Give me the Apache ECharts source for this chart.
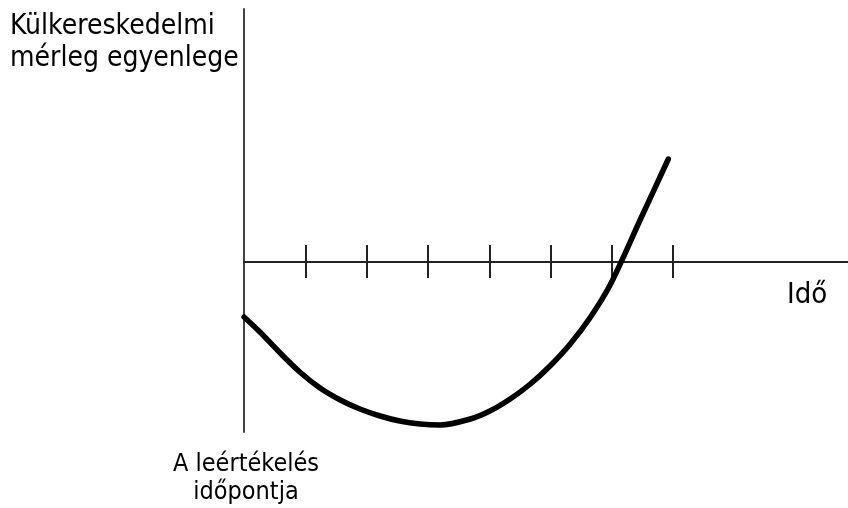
<!DOCTYPE html>
<html>
<head>
<meta charset="utf-8">
<script src="https://cdn.jsdelivr.net/npm/echarts@6/dist/echarts.min.js"></script>
<style>
  html, body { margin: 0; padding: 0; background: #fff; }
  #chart { width: 848px; height: 508px; }
</style>
</head>
<body>
<div id="chart"></div>
<script>
// J-görbe: a külkereskedelmi mérleg egyenlege a leértékelés után
var yAxisTitle = 'Külkereskedelmi\nmérleg egyenlege';
var xAxisTitle = 'Idő';
var originLabel = 'A leértékelés\nidőpontja';

// idő (tick egységekben) és egyenleg (önkényes egység)
var timeValues = [0, 0.26, 0.59, 0.91, 1.24, 1.57, 1.89, 2.22, 2.54, 2.87, 3.20, 3.69, 4.01, 4.34, 4.67, 4.99, 5.32, 5.64, 5.97, 6.46, 6.92];
var balanceValues = [-5.5, -7.0, -9.1, -11.0, -12.6, -13.8, -14.7, -15.4, -15.9, -16.2, -16.3, -15.7, -14.9, -13.7, -12.2, -10.4, -8.2, -5.6, -2.3, 4.2, 10.3];
var tickValues = [1, 2, 3, 4, 5, 6, 7];

var font = "'DejaVu Sans Condensed', 'DejaVu Sans', sans-serif";

var chart = echarts.init(document.getElementById('chart'));

var points = [];
for (var i = 0; i < timeValues.length; i++) {
  points.push([timeValues[i], balanceValues[i]]);
}

chart.setOption({
  animation: false,
  backgroundColor: '#fff',
  grid: { left: 244, right: 0, top: 9, bottom: 76 },
  xAxis: [
    {
      // vízszintes tengely, lefelé álló beosztással
      type: 'value',
      position: 'bottom',
      min: 0,
      max: 9.85,
      axisLine: { onZero: true, onZeroAxisIndex: 0, lineStyle: { color: '#222', width: 2 } },
      axisTick: { show: true, customValues: tickValues, length: 16, lineStyle: { color: '#222', width: 2 } },
      axisLabel: { show: false },
      splitLine: { show: false }
    },
    {
      // ugyanaz a tengely, felfelé álló beosztással
      type: 'value',
      position: 'top',
      min: 0,
      max: 9.85,
      axisLine: { show: false, onZero: true, onZeroAxisIndex: 1 },
      axisTick: { show: true, customValues: tickValues, length: 17, lineStyle: { color: '#222', width: 2 } },
      axisLabel: { show: false },
      splitLine: { show: false }
    }
  ],
  yAxis: [
    {
      type: 'value',
      min: -17,
      max: 25.3,
      axisLine: { show: true, onZero: false, lineStyle: { color: '#444', width: 2 } },
      axisTick: { show: false },
      axisLabel: { show: false },
      splitLine: { show: false }
    },
    {
      // rejtett segédtengely a felső beosztás nullára illesztéséhez
      type: 'value',
      position: 'right',
      min: -17,
      max: 25.3,
      axisLine: { show: false, onZero: false },
      axisTick: { show: false },
      axisLabel: { show: false },
      splitLine: { show: false }
    }
  ],
  series: [{
    type: 'line',
    data: points,
    smooth: 0.3,
    showSymbol: false,
    lineStyle: { color: '#000', width: 5.5, cap: 'round' }
  }],
  graphic: [
    {
      type: 'text', left: 10, top: 11,
      style: { text: yAxisTitle, font: '28px ' + font, fill: '#000', lineHeight: 32 }
    },
    {
      type: 'text', left: 787, top: 281,
      style: { text: xAxisTitle, font: '29px ' + font, fill: '#000', lineHeight: 28 }
    },
    {
      type: 'text', x: 246, y: 450,
      style: { text: originLabel, font: '25px ' + font, fill: '#000', lineHeight: 28, align: 'center', verticalAlign: 'top' }
    }
  ]
});
</script>
</body>
</html>
